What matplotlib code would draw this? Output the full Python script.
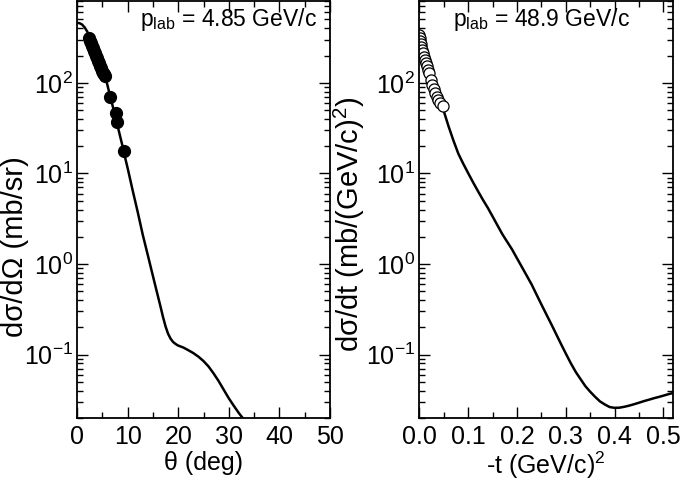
import numpy as np
import matplotlib
matplotlib.use("Agg")
import matplotlib.pyplot as plt
from matplotlib.ticker import MultipleLocator, LogLocator, NullFormatter

# FUENTES (tipo xmgrace / Helvetica)
plt.rcParams['font.family'] = ['Liberation Sans', 'DejaVu Sans']
plt.rcParams['mathtext.fontset'] = 'custom'
plt.rcParams['mathtext.rm'] = 'Liberation Sans'
plt.rcParams['mathtext.it'] = 'Liberation Sans:italic'
plt.rcParams['mathtext.bf'] = 'Liberation Sans:bold'
plt.rcParams['axes.unicode_minus'] = False

# DATOS - PANEL IZQUIERDO (p_lab = 4.85 GeV/c)
theta_exp = [2.3, 2.5, 2.7, 2.9, 3.1, 3.3, 3.5, 3.7, 3.9, 4.1, 4.3, 4.5,
             4.7, 4.9, 5.1, 5.3, 5.5, 6.5, 7.8, 8.0, 9.3]
dsdo_exp = [310, 290, 272, 258, 240, 225, 212, 198, 186, 176, 165, 154,
            145, 136, 130, 124, 120, 70, 46, 36.5, 17.6]

theta_teo = [0, 0.5, 1, 1.5, 2, 2.5, 3, 3.5, 4, 4.5, 5, 5.5, 6, 6.5, 7,
             7.5, 8, 8.5, 9, 9.5, 10, 11, 12, 13, 14, 15, 15.5, 16, 16.5,
             17, 17.5, 18, 18.5, 19, 19.5, 20, 21, 22, 23, 24, 25, 26, 27,
             28, 29, 30, 31, 32, 33, 34]
dsdo_teo = [460, 455, 440, 410, 370, 325, 280, 240, 205, 172, 143, 119,
            95, 73, 57, 44, 34, 26, 20, 15, 11.5, 6.5, 3.75, 2.1, 1.25,
            0.74, 0.57, 0.44, 0.34, 0.26, 0.205, 0.17, 0.15, 0.138,
            0.131, 0.126, 0.12, 0.112, 0.104, 0.095, 0.085, 0.074, 0.062,
            0.051, 0.041, 0.033, 0.0272, 0.0226, 0.0192, 0.0162]

# DATOS - PANEL DERECHO (p_lab = 48.9 GeV/c)
t_exp = [0.0004, 0.0014, 0.0024, 0.0035, 0.0045, 0.0055, 0.0076, 0.0096,
         0.0116, 0.0137, 0.0157, 0.0178, 0.0198, 0.0239, 0.027, 0.030,
         0.033, 0.0361, 0.039, 0.042, 0.048]
dsdt_exp = [336, 312, 289, 268, 248, 230, 213, 192, 178, 165, 153, 138,
            128, 107, 94, 85, 77, 69.5, 64, 60, 55]

t_teo = [0.0, 0.01, 0.02, 0.03, 0.04, 0.05, 0.06, 0.07, 0.08, 0.09, 0.10,
         0.11, 0.12, 0.13, 0.14, 0.15, 0.16, 0.17, 0.18, 0.19, 0.20, 0.21,
         0.22, 0.23, 0.24, 0.25, 0.26, 0.27, 0.28, 0.29, 0.30, 0.31, 0.32,
         0.33, 0.34, 0.35, 0.36, 0.37, 0.38, 0.39, 0.40, 0.41, 0.42, 0.43,
         0.44, 0.45, 0.46, 0.47, 0.48, 0.49, 0.50, 0.51, 0.52, 0.53]
dsdt_teo = [350, 245, 168, 112, 74, 49, 33, 23, 16.5, 12.8, 10.1, 8.0,
            6.4, 5.15, 4.2, 3.36, 2.68, 2.14, 1.76, 1.45, 1.16, 0.93,
            0.745, 0.596, 0.462, 0.359, 0.28, 0.219, 0.17, 0.132, 0.103,
            0.081, 0.065, 0.054, 0.045, 0.039, 0.0343, 0.0305, 0.0282,
            0.0264, 0.0259, 0.026, 0.0266, 0.0274, 0.0284, 0.0295, 0.0307,
            0.0318, 0.033, 0.0341, 0.0353, 0.0366, 0.0378, 0.0389]

# FIGURA
fig = plt.figure(figsize=(6.81, 4.83), dpi=100)

ax1 = fig.add_axes([77/681, 65/483, 253/681, 417/483])
ax2 = fig.add_axes([419.3/681, 65/483, 253.4/681, 417/483])

fs = 18
fs_y = 21


def estilo(ax):
    ax.set_yscale('log')
    ax.set_ylim(0.02, 800)
    ax.yaxis.set_major_locator(LogLocator(base=10, numticks=10))
    ax.yaxis.set_minor_locator(LogLocator(base=10, subs=np.arange(2, 10), numticks=20))
    ax.yaxis.set_minor_formatter(NullFormatter())
    ax.tick_params(which='both', direction='in', top=True, right=True,
                   labelsize=fs, width=1.0)
    ax.tick_params(which='major', length=8)
    ax.tick_params(which='minor', length=4.5)
    ax.tick_params(axis='x', pad=5)
    ax.tick_params(axis='y', pad=3)
    for s in ax.spines.values():
        s.set_linewidth(1.3)


# PANEL IZQUIERDO
ax1.plot(theta_teo, dsdo_teo, color='black', linewidth=1.8)
ax1.plot(theta_exp, dsdo_exp, 'o', color='black', markersize=8.5)
estilo(ax1)
ax1.set_xlim(0, 50)
ax1.xaxis.set_major_locator(MultipleLocator(10))
ax1.xaxis.set_minor_locator(MultipleLocator(5))
ax1.set_xlabel(r'θ (deg)', fontsize=fs)
ax1.set_ylabel(r'dσ/dΩ (mb/sr)', fontsize=fs_y)
ax1.xaxis.set_label_coords(0.5, -0.08)
ax1.yaxis.set_label_coords(-0.19, 0.41)
ax1.text(0.6, 0.955, r'p$_{\rm lab}$ = 4.85 GeV/c', transform=ax1.transAxes,
         ha='center', va='center', fontsize=16.5)

# PANEL DERECHO
ax2.plot(t_teo, dsdt_teo, color='black', linewidth=1.8)
ax2.plot(t_exp, dsdt_exp, 'o', markerfacecolor='white', markeredgecolor='black',
         markersize=8, markeredgewidth=0.9)
estilo(ax2)
ax2.set_xlim(0, 0.519)
ax2.xaxis.set_major_locator(MultipleLocator(0.1))
ax2.xaxis.set_minor_locator(MultipleLocator(0.05))
ax2.xaxis.set_major_formatter(plt.FuncFormatter(lambda v, p: f"{v:.1f}"))
ax2.set_xlabel(r'-t (GeV/c)$^2$', fontsize=fs)
ax2.set_ylabel(r'dσ/dt (mb/(GeV/c)$^2$)', fontsize=fs_y)
ax2.xaxis.set_label_coords(0.5, -0.075)
ax2.yaxis.set_label_coords(-0.205, 0.465)
ax2.text(0.484, 0.955, r'p$_{\rm lab}$ = 48.9 GeV/c', transform=ax2.transAxes,
         ha='center', va='center', fontsize=16.5)

fig.savefig('out.png', dpi=100)
